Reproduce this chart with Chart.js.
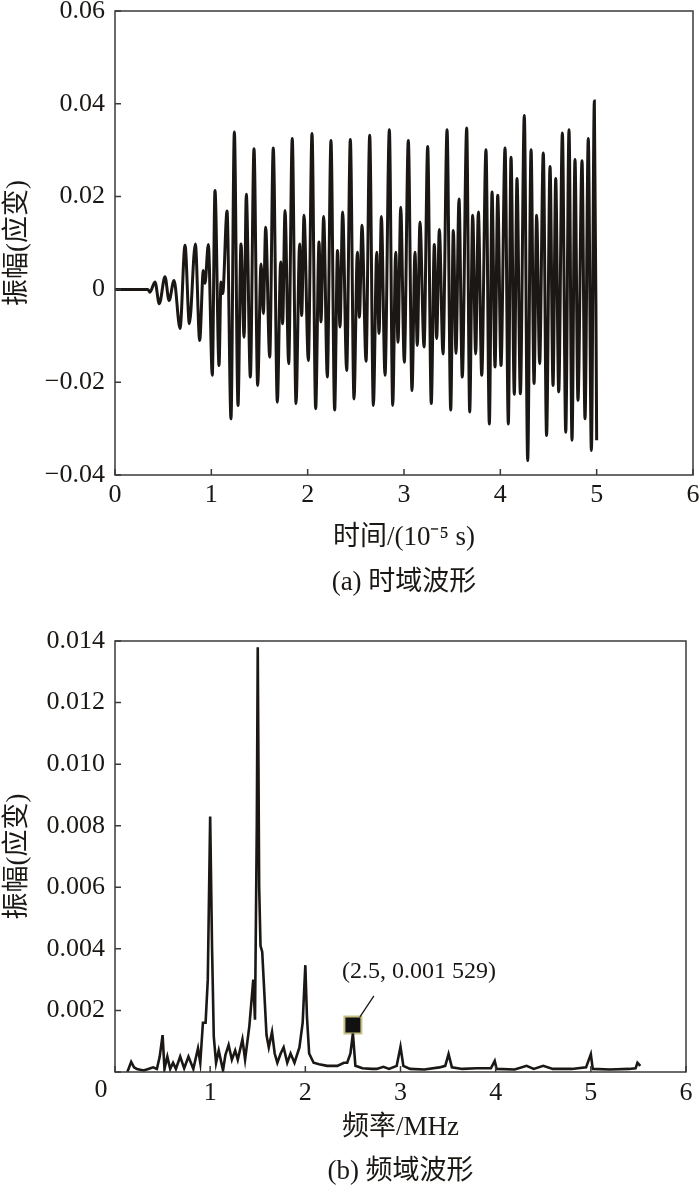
<!DOCTYPE html>
<html>
<head>
<meta charset="utf-8">
<script src="https://cdn.jsdelivr.net/npm/chart.js@4.4.1/dist/chart.umd.min.js"></script>
<style>
  html, body { margin: 0; padding: 0; background: #fff; }
  canvas { display: block; }
</style>
</head>
<body>
<canvas id="timeCanvas" width="700" height="596"></canvas>
<canvas id="freqCanvas" width="700" height="589"></canvas>
<script>
// (a) time-domain waveform: peaks and troughs
const timeX = [
  0, 0.34, 0.363, 0.415, 0.46, 0.519, 0.561, 0.613, 0.675, 0.727, 0.772, 0.834, 0.879, 0.917, 0.934, 0.969,
  1.01, 1.038, 1.08, 1.10, 1.118, 1.163, 1.204, 1.239, 1.277, 1.308, 1.34, 1.363, 1.405, 1.443, 1.481,
  1.516, 1.54, 1.564, 1.606, 1.643, 1.685, 1.72, 1.74, 1.765, 1.803, 1.84, 1.879, 1.917, 1.938, 1.962,
  2.007, 2.045, 2.083, 2.118, 2.138, 2.166, 2.204, 2.242, 2.28, 2.31, 2.336, 2.363, 2.405, 2.443, 2.481,
  2.516, 2.537, 2.564, 2.606, 2.644, 2.682, 2.717, 2.741, 2.765, 2.803, 2.848, 2.883, 2.914, 2.938, 2.966,
  3.003, 3.045, 3.083, 3.114, 3.138, 3.166, 3.208, 3.246, 3.283, 3.315, 3.339, 3.367, 3.405, 3.447, 3.485,
  3.512, 3.54, 3.571, 3.605, 3.651, 3.682, 3.713, 3.744, 3.772, 3.807, 3.851, 3.886, 3.914, 3.945, 3.973,
  4.007, 4.049, 4.083, 4.111, 4.145, 4.173, 4.208, 4.249, 4.284, 4.319, 4.35, 4.377, 4.408, 4.446, 4.48,
  4.516, 4.547, 4.575, 4.606, 4.644, 4.679, 4.713, 4.744, 4.775, 4.806, 4.848, 4.879, 4.913, 4.945, 4.976, 5.0
];
const timeAmp = [
  0, 0, -0.0006, 0.0016, -0.0031, 0.0027, -0.0024, 0.0019, -0.0084, 0.0095, -0.0074, 0.0098, -0.011, 0.0041, 0.0013, 0.0097,
  -0.0185, 0.0213, -0.0164, 0.0016, -0.0009, 0.0169, -0.0279, 0.0339, -0.025, 0.0098, -0.0103, 0.0205, -0.0189, 0.0303, -0.0207,
  0.0055, -0.0052, 0.0134, -0.0146, 0.0305, -0.0243, 0.0059, -0.0074, 0.017, -0.016, 0.0325, -0.0246, 0.0098, -0.0056, 0.016,
  -0.0153, 0.0336, -0.0257, 0.0102, -0.007, 0.0157, -0.0189, 0.0321, -0.026, 0.0084, -0.0081, 0.0167, -0.0175, 0.0323, -0.0236,
  0.008, -0.006, 0.0138, -0.0155, 0.0332, -0.025, 0.008, -0.0095, 0.0157, -0.0185, 0.0344, -0.025, 0.008, -0.0114, 0.0177,
  -0.0157, 0.0321, -0.0218, 0.008, -0.0121, 0.0145, -0.0124, 0.0308, -0.0246, 0.0097, -0.0106, 0.0129, -0.0139, 0.0344, -0.026,
  0.0127, -0.0138, 0.0195, -0.0189, 0.0348, -0.0264, 0.016, -0.0139, 0.0167, -0.0185, 0.0301, -0.029, 0.021, -0.0167, 0.0203,
  -0.0164, 0.0305, -0.029, 0.0285, -0.0226, 0.0239, -0.0225, 0.0375, -0.0369, 0.0301, -0.0203, 0.016, -0.016, 0.0294, -0.0315,
  0.0265, -0.0207, 0.0239, -0.0221, 0.0337, -0.0308, 0.0344, -0.0325, 0.028, -0.0239, 0.0277, -0.0279, 0.0325, -0.0347, 0.0406, -0.0325
];
const timeXTicks = ['0', '1', '2', '3', '4', '5', '6'];
const timeYTicks = ['\u22120.04', '\u22120.02', '0', '0.02', '0.04', '0.06'];

// (b) frequency spectrum
const freqX = [
  0.13, 0.17, 0.2, 0.23, 0.3, 0.35, 0.4, 0.44, 0.47, 0.5, 0.52, 0.55, 0.58, 0.61, 0.64, 0.685, 0.727, 0.772,
  0.823, 0.872, 0.896, 0.924, 0.952, 0.975, 1.0, 1.02, 1.038, 1.062, 1.09, 1.135, 1.16, 1.194, 1.228, 1.263,
  1.29, 1.339, 1.367, 1.412, 1.453, 1.471, 1.49, 1.5, 1.515, 1.529, 1.547, 1.592, 1.616, 1.65, 1.678, 1.706,
  1.741, 1.772, 1.81, 1.845, 1.886, 1.938, 1.972, 2.0, 2.017, 2.04, 2.087, 2.145, 2.23, 2.336, 2.405, 2.44,
  2.474, 2.5, 2.526, 2.6, 2.7, 2.75, 2.82, 2.88, 2.96, 3.0, 3.03, 3.1, 3.25, 3.41, 3.47, 3.505, 3.54, 3.65,
  3.8, 3.95, 3.99, 4.01, 4.2, 4.325, 4.4, 4.5, 4.6, 4.8, 4.95, 5.0, 5.02, 5.2, 5.4, 5.47, 5.49, 5.52
];
const freqAmp = [
  0, 0.00033, 0.00015, 0.0001, 0.00005, 0.0001, 0.00015, 0.0001, 0.0005, 0.0012, 0.0001, 0.0005, 0.0001, 0.0003, 0.0001, 0.0005, 0.00012, 0.0005,
  0.0001, 0.00077, 0.0003, 0.0016, 0.0016, 0.003, 0.0083, 0.004, 0.00115, 0.0003, 0.0007, 0.00005, 0.00055, 0.00088, 0.0004, 0.0007,
  0.0004, 0.00106, 0.0004, 0.0015, 0.003, 0.0017, 0.008, 0.0138, 0.006, 0.0041, 0.0039, 0.0012, 0.0008, 0.0013, 0.0006, 0.0003,
  0.0006, 0.0008, 0.0003, 0.0006, 0.0003, 0.0008, 0.0016, 0.00347, 0.0018, 0.0006, 0.0003, 0.00025, 0.0002, 0.0002, 0.0003, 0.0003,
  0.0006, 0.00125, 0.0002, 0.00012, 0.0001, 0.0001, 0.00017, 0.0001, 0.0002, 0.00082, 0.0002, 0.0001, 0.00008, 0.00015, 0.0002, 0.00058, 0.00015, 0.0001,
  0.00012, 0.00012, 0.00036, 0.0001, 0.00008, 0.0002, 0.0001, 0.0002, 0.0001, 0.0001, 0.00015, 0.00058, 0.0001, 0.00008, 0.0001, 0.00012, 0.0003, 0.0002
];
const markX = [2.5];
const markY = [0.001529];
const markLabel = '(2.5, 0.001 529)';
const freqXTicks = ['', '1', '2', '3', '4', '5', '6'];
const freqYTicks = ['', '0.002', '0.004', '0.006', '0.008', '0.010', '0.012', '0.014'];
const freqOrigin = '0';

const INK = '#1a1714';
const SERIF = "'Liberation Serif', 'Times New Roman', 'Noto Sans CJK SC', serif";
const CJK = "'Liberation Serif', 'Noto Sans CJK SC', serif";

// box round the plot and short ticks pointing inward
const frameTicks = {
  id: 'frameTicks',
  afterDraw(chart) {
    const { ctx, chartArea: a, scales: { x, y } } = chart;
    ctx.save();
    ctx.strokeStyle = '#3a3a3a';
    ctx.lineWidth = 1.5;
    ctx.strokeRect(a.left, a.top, a.width, a.height);
    ctx.beginPath();
    x.ticks.forEach(t => {
      const px = x.getPixelForValue(t.value);
      ctx.moveTo(px, a.bottom);
      ctx.lineTo(px, a.bottom - 6);
    });
    y.ticks.forEach(t => {
      const py = y.getPixelForValue(t.value);
      ctx.moveTo(a.left, py);
      ctx.lineTo(a.left + 6, py);
    });
    ctx.stroke();
    ctx.restore();
  }
};

// shared origin "0" of the spectrum, set a little left of the corner
const originLabel = {
  id: 'originLabel',
  afterDraw(chart) {
    const { ctx, chartArea: a } = chart;
    ctx.save();
    ctx.fillStyle = INK;
    ctx.font = "26px " + SERIF;
    ctx.textAlign = 'center';
    ctx.textBaseline = 'top';
    ctx.fillText(freqOrigin, a.left - 14, a.bottom + 5.5);
    ctx.restore();
  }
};

// leader line and text for the marked point
const markNote = {
  id: 'markNote',
  afterDatasetsDraw(chart) {
    const meta = chart.getDatasetMeta(1);
    if (!meta || !meta.data.length) return;
    const p = meta.data[0];
    const ctx = chart.ctx;
    ctx.save();
    ctx.strokeStyle = INK;
    ctx.lineWidth = 1.3;
    ctx.beginPath();
    ctx.moveTo(p.x + 7, p.y - 8);
    ctx.lineTo(p.x + 21, p.y - 29);
    ctx.stroke();
    ctx.fillStyle = INK;
    ctx.font = "24px " + SERIF;
    ctx.textBaseline = 'middle';
    ctx.textAlign = 'left';
    ctx.fillText(markLabel, p.x - 11, p.y - 53);
    ctx.restore();
  }
};

function axisX(labels, titleText, tickPad, height) {
  return {
    type: 'linear', min: 0, max: 6,
    grid: { display: false, drawTicks: false },
    border: { display: false },
    ticks: {
      stepSize: 1, maxRotation: 0, padding: tickPad, color: INK,
      font: { family: SERIF, size: 26 },
      callback: (v, i) => labels[i] !== undefined ? labels[i] : v
    },
    title: {
      display: true, text: titleText, color: INK,
      font: { family: CJK, size: 27, lineHeight: 1 },
      padding: { top: 0, bottom: 0 }
    },
    afterFit(s) {
      s.height = height;
      s.paddingLeft = 0;
      s.paddingRight = 7;
    }
  };
}

function axisY(min, max, step, labels, padTop) {
  return {
    type: 'linear', min: min, max: max,
    grid: { display: false, drawTicks: false },
    border: { display: false },
    ticks: {
      stepSize: step, padding: 10, color: INK,
      font: { family: SERIF, size: 26 },
      callback: (v, i) => labels[i] !== undefined ? labels[i] : v
    },
    title: {
      display: true, text: '振幅(应变)', color: INK,
      font: { family: CJK, size: 27, lineHeight: 1 },
      padding: { top: 4, bottom: 0 }
    },
    afterFit(s) {
      s.width = 115;
      s.paddingTop = padTop;
      s.paddingBottom = 0;
    }
  };
}

function caption(text, padTop, padBottom) {
  return {
    display: true, position: 'bottom', fullSize: false, text: text, color: INK,
    font: { family: CJK, size: 27, weight: 'normal', lineHeight: 1 },
    padding: { top: padTop, bottom: padBottom }
  };
}

new Chart(document.getElementById('timeCanvas'), {
  type: 'line',
  data: {
    datasets: [{
      data: timeX.map((t, i) => ({ x: t, y: timeAmp[i] })),
      borderColor: INK,
      borderWidth: 3,
      pointRadius: 0,
      cubicInterpolationMode: 'monotone',
      fill: false
    }]
  },
  options: {
    responsive: false,
    animation: false,
    layout: { padding: { top: 0, right: 7, left: 0, bottom: 0 } },
    plugins: {
      legend: { display: false },
      tooltip: { enabled: false },
      title: caption('(a) 时域波形', 17.5, 0)
    },
    scales: {
      x: axisX(timeXTicks, '时间/(10⁻⁵ s)', 4.5, 76.5),
      y: axisY(-0.04, 0.06, 0.02, timeYTicks, 11)
    }
  },
  plugins: [frameTicks]
});

new Chart(document.getElementById('freqCanvas'), {
  type: 'line',
  data: {
    datasets: [{
      data: freqX.map((f, i) => ({ x: f, y: freqAmp[i] })),
      borderColor: INK,
      borderWidth: 2.6,
      pointRadius: 0,
      tension: 0,
      fill: false
    }, {
      type: 'scatter',
      data: markX.map((f, i) => ({ x: f, y: markY[i] })),
      pointStyle: 'rect',
      pointRadius: 12,
      backgroundColor: '#111',
      borderColor: '#c8bf84',
      borderWidth: 2
    }]
  },
  options: {
    responsive: false,
    animation: false,
    layout: { padding: { top: 0, right: 7, left: 0, bottom: 0 } },
    plugins: {
      legend: { display: false },
      tooltip: { enabled: false },
      title: caption('(b) 频域波形', 16.5, 0)
    },
    scales: {
      x: axisX(freqXTicks, '频率/MHz', 5.5, 69.5),
      y: axisY(0, 0.014, 0.002, freqYTicks, 45)
    }
  },
  plugins: [frameTicks, markNote, originLabel]
});
</script>
</body>
</html>
